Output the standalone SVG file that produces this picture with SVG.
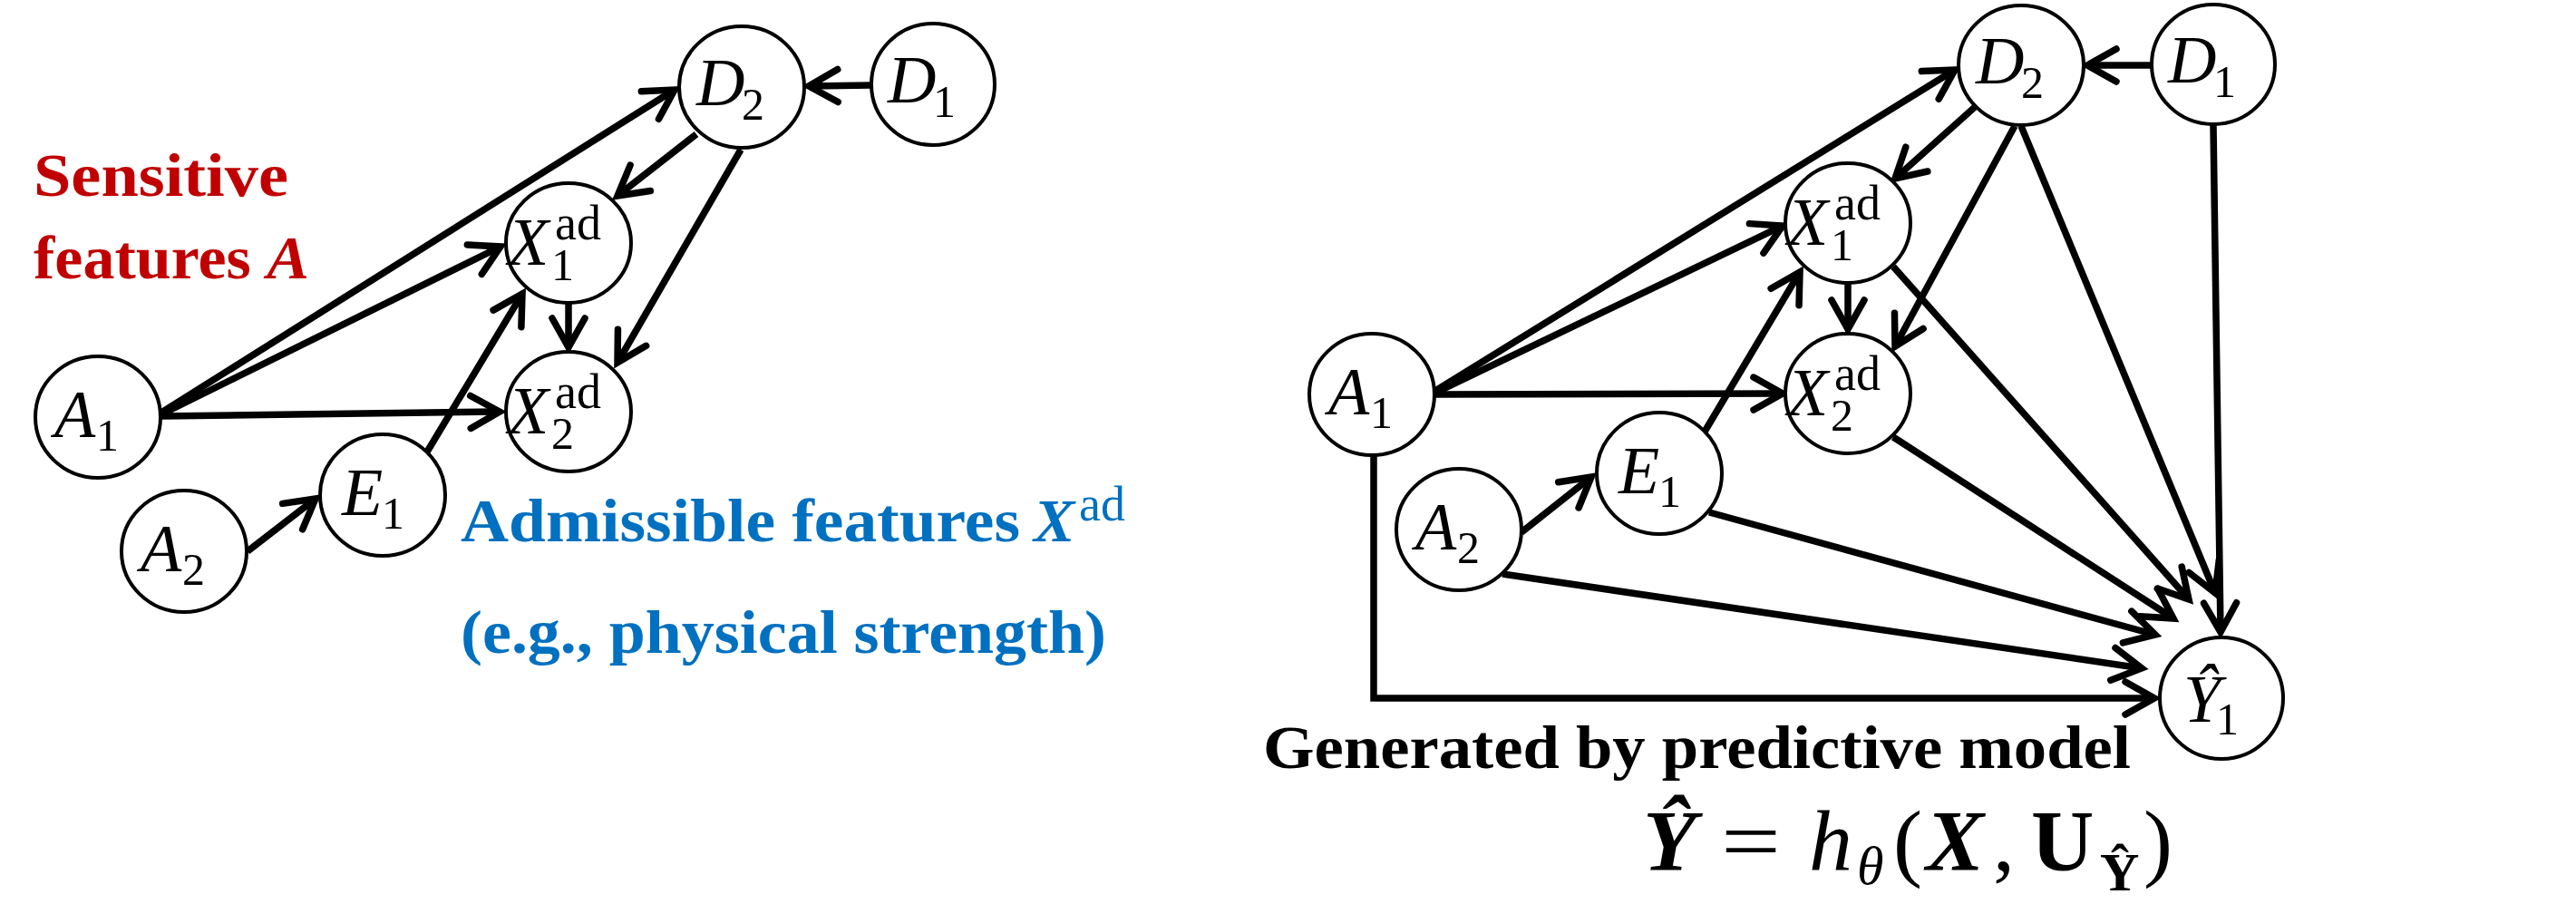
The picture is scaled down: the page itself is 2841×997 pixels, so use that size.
<svg xmlns="http://www.w3.org/2000/svg" width="2841" height="997" viewBox="0 0 2841 997">
<style>
.node{fill:#fff;stroke:#000;stroke-width:4}
.edge{fill:none;stroke:#000;stroke-width:7.5;marker-end:url(#arr)}
.lbl{font-family:"Liberation Serif",serif;font-style:italic;font-size:74px;fill:#000}
.sub{font-family:"Liberation Serif",serif;font-size:50px;fill:#000}
.sup{font-family:"Liberation Serif",serif;font-size:54px;fill:#000}
.cap{font-family:"Liberation Serif",serif;font-weight:bold;font-size:68px}
.red{fill:#c00000}
.blue{fill:#0070c0}
.math{font-family:"Liberation Serif",serif;font-size:96px;fill:#000}
.msub{font-family:"Liberation Serif",serif;font-size:60px;fill:#000}
</style>
<defs>
<marker id="arr" markerUnits="userSpaceOnUse" markerWidth="80" markerHeight="80" viewBox="-40 -40 80 80" refX="0" refY="0" orient="auto" overflow="visible">
<path d="M-32,-18 L0,0 L-32,18" fill="none" stroke="#000" stroke-width="7.5" stroke-linecap="round" stroke-linejoin="miter"/>
</marker>
</defs>
<rect width="2841" height="997" fill="#fff"/>

<!-- LEFT DIAGRAM -->
<g id="left-connectors">
<line class="edge" x1="178" y1="455" x2="744" y2="99"/>
<line class="edge" x1="178" y1="457" x2="552" y2="272"/>
<line class="edge" x1="178" y1="459" x2="551" y2="454"/>
<line class="edge" x1="273" y1="608" x2="348" y2="550"/>
<line class="edge" x1="470" y1="500" x2="576" y2="324"/>
<line class="edge" x1="768" y1="148" x2="681" y2="216"/>
<line class="edge" x1="817" y1="165" x2="681" y2="400"/>
<line class="edge" x1="627" y1="335" x2="627" y2="383"/>
<line class="edge" x1="961" y1="94" x2="892" y2="95"/>
</g>
<g id="L-D2"><ellipse class="node" cx="818" cy="96" rx="69" ry="67"/><text class="lbl" x="768" y="116">D</text><text class="sub" x="818" y="132">2</text></g>
<g id="L-D1"><ellipse class="node" cx="1029" cy="93" rx="68" ry="67"/><text class="lbl" x="979" y="113">D</text><text class="sub" x="1029" y="129">1</text></g>
<g id="L-X1"><ellipse class="node" cx="627" cy="268" rx="69" ry="66"/><text class="lbl" x="560" y="292">X</text><text class="sup" x="612" y="264">ad</text><text class="sub" x="608" y="309">1</text></g>
<g id="L-X2"><ellipse class="node" cx="627" cy="454" rx="69" ry="66"/><text class="lbl" x="560" y="478">X</text><text class="sup" x="612" y="450">ad</text><text class="sub" x="608" y="495">2</text></g>
<g id="L-A1"><ellipse class="node" cx="108" cy="460" rx="69" ry="67"/><text class="lbl" x="60" y="482">A</text><text class="sub" x="106" y="497">1</text></g>
<g id="L-A2"><ellipse class="node" cx="203" cy="608" rx="69" ry="67"/><text class="lbl" x="155" y="630">A</text><text class="sub" x="201" y="645">2</text></g>
<g id="L-E1"><ellipse class="node" cx="422" cy="546" rx="69" ry="67"/><text class="lbl" x="377" y="568">E</text><text class="sub" x="421" y="583">1</text></g>

<g id="L-texts">
<text class="cap red" x="37" y="216" textLength="281" lengthAdjust="spacingAndGlyphs">Sensitive</text>
<text class="cap red" x="37" y="307" textLength="304" lengthAdjust="spacingAndGlyphs">features <tspan font-style="italic">A</tspan></text>
<text class="cap blue" x="508" y="597" textLength="617" lengthAdjust="spacingAndGlyphs">Admissible features</text>
<text class="cap blue" x="1140" y="597" font-style="italic">X</text>
<text class="blue" x="1190" y="574" font-family="Liberation Serif, serif" font-size="54">ad</text>
<text class="cap blue" x="508" y="720" textLength="712" lengthAdjust="spacingAndGlyphs">(e.g., physical strength)</text>
</g>

<!-- RIGHT DIAGRAM -->
<g id="right-connectors">
<line class="edge" x1="1583" y1="431" x2="2156" y2="77"/>
<line class="edge" x1="1583" y1="433" x2="1966" y2="249"/>
<line class="edge" x1="1583" y1="435" x2="1966" y2="434"/>
<polyline class="edge" points="1515,502 1515,770 2376,770"/>
<line class="edge" x1="1678" y1="587" x2="1755" y2="526"/>
<line class="edge" x1="1657" y1="633" x2="2362" y2="737"/>
<line class="edge" x1="1880" y1="476" x2="1985" y2="300"/>
<line class="edge" x1="1885" y1="565" x2="2377" y2="700"/>
<line class="edge" x1="2088" y1="482" x2="2397" y2="682"/>
<line class="edge" x1="2088" y1="294" x2="2414" y2="661"/>
<line class="edge" x1="2229" y1="139" x2="2443" y2="654"/>
<line class="edge" x1="2441" y1="138" x2="2449" y2="697"/>
<line class="edge" x1="2178" y1="118" x2="2090" y2="197"/>
<line class="edge" x1="2222" y1="139" x2="2090" y2="382"/>
<line class="edge" x1="2038" y1="312" x2="2038" y2="363"/>
<line class="edge" x1="2373" y1="72" x2="2302" y2="72"/>
</g>
<g id="R-D2"><ellipse class="node" cx="2229" cy="72" rx="69" ry="66"/><text class="lbl" x="2179" y="92">D</text><text class="sub" x="2229" y="108">2</text></g>
<g id="R-D1"><ellipse class="node" cx="2441" cy="71" rx="68" ry="66"/><text class="lbl" x="2391" y="91">D</text><text class="sub" x="2441" y="107">1</text></g>
<g id="R-X1"><ellipse class="node" cx="2038" cy="246" rx="69" ry="66"/><text class="lbl" x="1971" y="270">X</text><text class="sup" x="2023" y="242">ad</text><text class="sub" x="2019" y="287">1</text></g>
<g id="R-X2"><ellipse class="node" cx="2038" cy="434" rx="69" ry="66"/><text class="lbl" x="1971" y="458">X</text><text class="sup" x="2023" y="430">ad</text><text class="sub" x="2019" y="475">2</text></g>
<g id="R-A1"><ellipse class="node" cx="1513" cy="435" rx="69" ry="67"/><text class="lbl" x="1465" y="457">A</text><text class="sub" x="1511" y="472">1</text></g>
<g id="R-A2"><ellipse class="node" cx="1609" cy="584" rx="69" ry="67"/><text class="lbl" x="1561" y="606">A</text><text class="sub" x="1607" y="621">2</text></g>
<g id="R-E1"><ellipse class="node" cx="1830" cy="522" rx="69" ry="67"/><text class="lbl" x="1785" y="544">E</text><text class="sub" x="1829" y="559">1</text></g>
<g id="R-Y1"><ellipse class="node" cx="2450" cy="770" rx="68" ry="67"/><text class="lbl" x="2408" y="796">Ŷ</text><text class="sub" x="2444" y="810">1</text></g>

<g id="R-texts">
<text class="cap" x="1393" y="847" textLength="957" lengthAdjust="spacingAndGlyphs" fill="#000">Generated by predictive model</text>
<text class="math" x="1812" y="960" font-weight="bold" font-style="italic">Ŷ</text>
<text class="math" x="1898" y="960" textLength="66" lengthAdjust="spacingAndGlyphs">=</text>
<text class="math" x="1995" y="960" font-style="italic">h</text>
<text class="msub" x="2048" y="975" font-style="italic">θ</text>
<text class="math" x="2088" y="960">(</text>
<text class="math" x="2124" y="960" font-weight="bold" font-style="italic">X</text>
<text class="math" x="2198" y="960">,</text>
<text class="math" x="2240" y="960" font-weight="bold">U</text>
<text class="msub" x="2316" y="982" font-weight="bold">Ŷ</text>
<text class="math" x="2364" y="960">)</text>
</g>
</svg>
